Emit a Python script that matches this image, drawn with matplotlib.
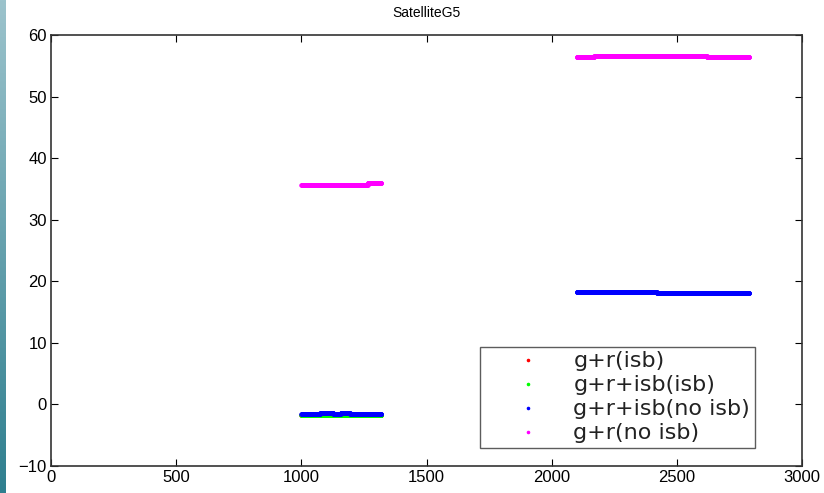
import numpy as np
import matplotlib
matplotlib.use("Agg")
import matplotlib.pyplot as plt

# piecewise-constant segments: (start epoch, end epoch, value)
red_seg = [(1000, 1320, -1.75)]
green_seg = [(1000, 1320, -1.75)]
blue_seg = [(1000, 1075, -1.6), (1075, 1128, -1.4), (1128, 1157, -1.6),
            (1157, 1195, -1.4), (1195, 1320, -1.6),
            (2100, 2420, 18.3), (2420, 2790, 18.1)]
magenta_seg = [(1000, 1265, 35.7), (1265, 1320, 35.95),
               (2100, 2170, 56.4), (2170, 2620, 56.65), (2620, 2790, 56.4)]

labels = ['g+r(isb)', 'g+r+isb(isb)', 'g+r+isb(no isb)', 'g+r(no isb)']
colors = ['#ff0000', '#00ff00', '#0000ff', '#ff00ff']
xticks = [0, 500, 1000, 1500, 2000, 2500, 3000]
yticks = [-10, 0, 10, 20, 30, 40, 50, 60]


def expand(segs):
    xs, ys = [], []
    for a, b, v in segs:
        e = np.arange(a, b + 1)
        xs.append(e)
        ys.append(np.full(len(e), v))
    return np.concatenate(xs), np.concatenate(ys)


plt.rcParams['font.family'] = ['Liberation Sans', 'DejaVu Sans']
fig = plt.figure(figsize=(8.24, 4.93), dpi=100)

# teal strip on the left edge
strip = fig.add_axes([0, 0, 0.0065, 1])
grad = np.linspace(0, 1, 256).reshape(-1, 1)
strip.imshow(grad, aspect='auto', cmap=matplotlib.colors.LinearSegmentedColormap.from_list(
    'teal', ['#9cc3cc', '#2f7f8f']))
strip.axis('off')

ax = fig.add_axes([0.0619, 0.0548, 0.9114, 0.8742])
for segs, c, lab in zip([red_seg, green_seg, blue_seg, magenta_seg], colors, labels):
    x, y = expand(segs)
    ax.plot(x, y, '.', color=c, markersize=4.5, label=lab)

ax.set_xlim(0, 3000)
ax.set_ylim(-10, 60)
ax.set_xticks(xticks)
ax.set_yticks(yticks)
ax.tick_params(direction='in', top=True, right=True, labelsize=12, length=5, pad=3)
for s in ax.spines.values():
    s.set_linewidth(1.2)
    s.set_color('#333333')
ax.set_title('SatelliteG5', fontsize=10, pad=13)

leg = ax.legend(loc='lower right', bbox_to_anchor=(0.937, 0.042),
                prop={'family': 'DejaVu Sans', 'size': 16},
                frameon=True, fancybox=False, edgecolor='#333333',
                markerscale=0.7, handletextpad=0.1, borderpad=0.2, labelspacing=0.18,
                handlelength=3.9, borderaxespad=0)
leg.get_frame().set_linewidth(1.0)
for t in leg.get_texts():
    t.set_color('#222222')

fig.savefig('out.png', dpi=100)
